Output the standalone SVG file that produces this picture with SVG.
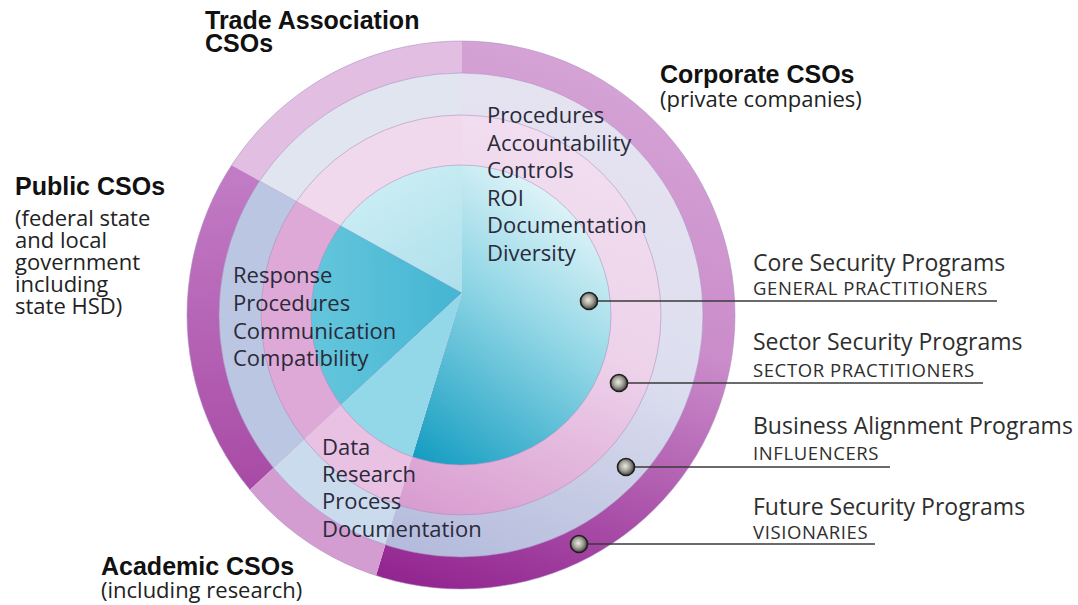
<svg xmlns="http://www.w3.org/2000/svg" width="1078" height="605" viewBox="0 0 1078 605">
  <style>
    .head { font-family: "Liberation Sans", Arial, sans-serif; font-weight: bold; font-size: 25px; fill: #111; }
    .sub { font-family: "Open Sans", "Noto Sans", sans-serif; font-size: 22px; fill: #222; }
    .body { font-family: "Open Sans", "Noto Sans", sans-serif; font-size: 22px; fill: #2a2a3a; }
    .prog { font-family: "Open Sans", "Noto Sans", sans-serif; font-size: 23px; fill: #2e2e2e; }
    .role { font-family: "Open Sans", "Noto Sans", sans-serif; font-size: 18.5px; letter-spacing: 0.6px; fill: #2e2e2e; }
    .leader { stroke: #3a3a3a; stroke-width: 1.6; fill: none; }
    .ball { fill: url(#ballGrad); stroke: #1e1e1e; stroke-width: 1.6; }
    .edge { fill: none; stroke: #a98cbf; stroke-width: 1; stroke-opacity: 0.55; }
  </style>
  <defs>
    <!-- sector wedges, all meeting at (462,293) -->
    <clipPath id="clipCorporate"><polygon points="462,293 186,1200 1500,1200 1500,-300 462,-300"/></clipPath>
    <clipPath id="clipTrade"><polygon points="462,293 462,-300 -400,-300 -400,-185"/></clipPath>
    <clipPath id="clipPublic"><polygon points="462,293 -400,-185 -400,1093"/></clipPath>
    <clipPath id="clipAcademic"><polygon points="462,293 -400,1093 -400,1200 186,1200"/></clipPath>

    <linearGradient id="corpOuter" gradientUnits="userSpaceOnUse" x1="600" y1="50" x2="420" y2="590">
      <stop offset="0" stop-color="#d6a5d6"/>
      <stop offset="0.45" stop-color="#ca8cca"/>
      <stop offset="1" stop-color="#922490"/>
    </linearGradient>
    <linearGradient id="corpRing3" gradientUnits="userSpaceOnUse" x1="600" y1="80" x2="420" y2="560">
      <stop offset="0" stop-color="#e7e3f1"/>
      <stop offset="0.5" stop-color="#dcdeef"/>
      <stop offset="1" stop-color="#b3badb"/>
    </linearGradient>
    <linearGradient id="corpRing2" gradientUnits="userSpaceOnUse" x1="600" y1="120" x2="430" y2="515">
      <stop offset="0" stop-color="#f2e0f0"/>
      <stop offset="0.5" stop-color="#edd2ea"/>
      <stop offset="1" stop-color="#d99dd0"/>
    </linearGradient>
    <linearGradient id="corpInner" gradientUnits="userSpaceOnUse" x1="600" y1="190" x2="410" y2="450">
      <stop offset="0" stop-color="#f2fbfc"/>
      <stop offset="0.45" stop-color="#93d7e6"/>
      <stop offset="1" stop-color="#179ec2"/>
    </linearGradient>
    <linearGradient id="publicOuter" gradientUnits="userSpaceOnUse" x1="220" y1="170" x2="240" y2="490">
      <stop offset="0" stop-color="#c27cc5"/>
      <stop offset="1" stop-color="#a84aa5"/>
    </linearGradient>
    <linearGradient id="tradeInner" gradientUnits="userSpaceOnUse" x1="380" y1="170" x2="450" y2="290">
      <stop offset="0" stop-color="#cdeef4"/>
      <stop offset="1" stop-color="#aee0ec"/>
    </linearGradient>
    <linearGradient id="publicInner" gradientUnits="userSpaceOnUse" x1="320" y1="300" x2="450" y2="295">
      <stop offset="0" stop-color="#62c5db"/>
      <stop offset="1" stop-color="#46b6d3"/>
    </linearGradient>
    <radialGradient id="ballGrad" cx="0.45" cy="0.45" r="0.6">
      <stop offset="0" stop-color="#ecebe0"/>
      <stop offset="0.45" stop-color="#a9a89f"/>
      <stop offset="1" stop-color="#333"/>
    </radialGradient>
  </defs>

  <rect width="1078" height="605" fill="#ffffff"/>

  <!-- Corporate CSOs sector -->
  <g id="sector-corporate" clip-path="url(#clipCorporate)">
    <circle cx="461" cy="315" r="274" fill="url(#corpOuter)"/>
    <circle cx="461" cy="315" r="242" fill="url(#corpRing3)"/>
    <circle cx="461" cy="315" r="200" fill="url(#corpRing2)"/>
    <circle cx="461" cy="315" r="150" fill="url(#corpInner)"/>
  </g>

  <!-- Trade Association CSOs sector -->
  <g id="sector-trade" clip-path="url(#clipTrade)">
    <circle cx="461" cy="315" r="274" fill="#e2bee2"/>
    <circle cx="461" cy="315" r="242" fill="#e0e5f0"/>
    <circle cx="461" cy="315" r="200" fill="#f1d9ed"/>
    <circle cx="461" cy="315" r="150" fill="url(#tradeInner)"/>
  </g>

  <!-- Public CSOs sector -->
  <g id="sector-public" clip-path="url(#clipPublic)">
    <circle cx="461" cy="315" r="274" fill="url(#publicOuter)"/>
    <circle cx="461" cy="315" r="242" fill="#bbc6e2"/>
    <circle cx="461" cy="315" r="200" fill="#dea9d6"/>
    <circle cx="461" cy="315" r="150" fill="url(#publicInner)"/>
  </g>

  <!-- Academic CSOs sector -->
  <g id="sector-academic" clip-path="url(#clipAcademic)">
    <circle cx="461" cy="315" r="274" fill="#d49dd1"/>
    <circle cx="461" cy="315" r="242" fill="#cbdbee"/>
    <circle cx="461" cy="315" r="200" fill="#e9c1e3"/>
    <circle cx="461" cy="315" r="150" fill="#92d8e8"/>
  </g>

  <!-- ring outlines -->
  <g id="ring-edges">
    <circle class="edge" cx="461" cy="315" r="274" stroke-opacity="0.8"/>
    <circle class="edge" cx="461" cy="315" r="242"/>
    <circle class="edge" cx="461" cy="315" r="200"/>
    <circle class="edge" cx="461" cy="315" r="150"/>
  </g>

  <!-- sector headings -->
  <g id="label-trade">
    <text class="head" x="205" y="29">Trade Association</text>
    <text class="head" x="205" y="52">CSOs</text>
  </g>
  <g id="label-corporate">
    <text class="head" x="660" y="83">Corporate CSOs</text>
    <text class="sub" x="660" y="107" font-size="23">(private companies)</text>
  </g>
  <g id="label-public">
    <text class="head" x="15" y="195">Public CSOs</text>
    <text class="sub" x="15" y="226">(federal state</text>
    <text class="sub" x="15" y="248">and local</text>
    <text class="sub" x="15" y="270">government</text>
    <text class="sub" x="15" y="292">including</text>
    <text class="sub" x="15" y="314">state HSD)</text>
  </g>
  <g id="label-academic">
    <text class="head" x="101" y="575">Academic CSOs</text>
    <text class="sub" x="101" y="598" font-size="23">(including research)</text>
  </g>

  <!-- concerns listed inside each sector -->
  <g id="items-corporate">
    <text class="body" x="487" y="123">Procedures</text>
    <text class="body" x="487" y="151">Accountability</text>
    <text class="body" x="487" y="178">Controls</text>
    <text class="body" x="487" y="206">ROI</text>
    <text class="body" x="487" y="233">Documentation</text>
    <text class="body" x="487" y="261">Diversity</text>
  </g>
  <g id="items-public">
    <text class="body" x="233" y="283">Response</text>
    <text class="body" x="233" y="311">Procedures</text>
    <text class="body" x="233" y="339">Communication</text>
    <text class="body" x="233" y="366">Compatibility</text>
  </g>
  <g id="items-academic">
    <text class="body" x="322" y="455">Data</text>
    <text class="body" x="322" y="482">Research</text>
    <text class="body" x="322" y="509">Process</text>
    <text class="body" x="322" y="537">Documentation</text>
  </g>

  <!-- leader lines from each ring to its program label -->
  <g id="connectors">
    <line class="leader" x1="589" y1="301" x2="997" y2="301"/>
    <line class="leader" x1="619" y1="383" x2="983" y2="383"/>
    <line class="leader" x1="626" y1="467" x2="890" y2="467"/>
    <line class="leader" x1="579" y1="544" x2="875" y2="544"/>
    <circle class="ball" cx="589" cy="301" r="8.5"/>
    <circle class="ball" cx="619" cy="383" r="8.5"/>
    <circle class="ball" cx="626" cy="467" r="8.5"/>
    <circle class="ball" cx="579" cy="544" r="8.5"/>
  </g>

  <g id="program-core">
    <text class="prog" x="753" y="271">Core Security Programs</text>
    <text class="role" x="753" y="295">GENERAL PRACTITIONERS</text>
  </g>
  <g id="program-sector">
    <text class="prog" x="753" y="350">Sector Security Programs</text>
    <text class="role" x="753" y="377">SECTOR PRACTITIONERS</text>
  </g>
  <g id="program-business">
    <text class="prog" x="753" y="434">Business Alignment Programs</text>
    <text class="role" x="753" y="460">INFLUENCERS</text>
  </g>
  <g id="program-future">
    <text class="prog" x="753" y="515">Future Security Programs</text>
    <text class="role" x="753" y="539">VISIONARIES</text>
  </g>
</svg>
